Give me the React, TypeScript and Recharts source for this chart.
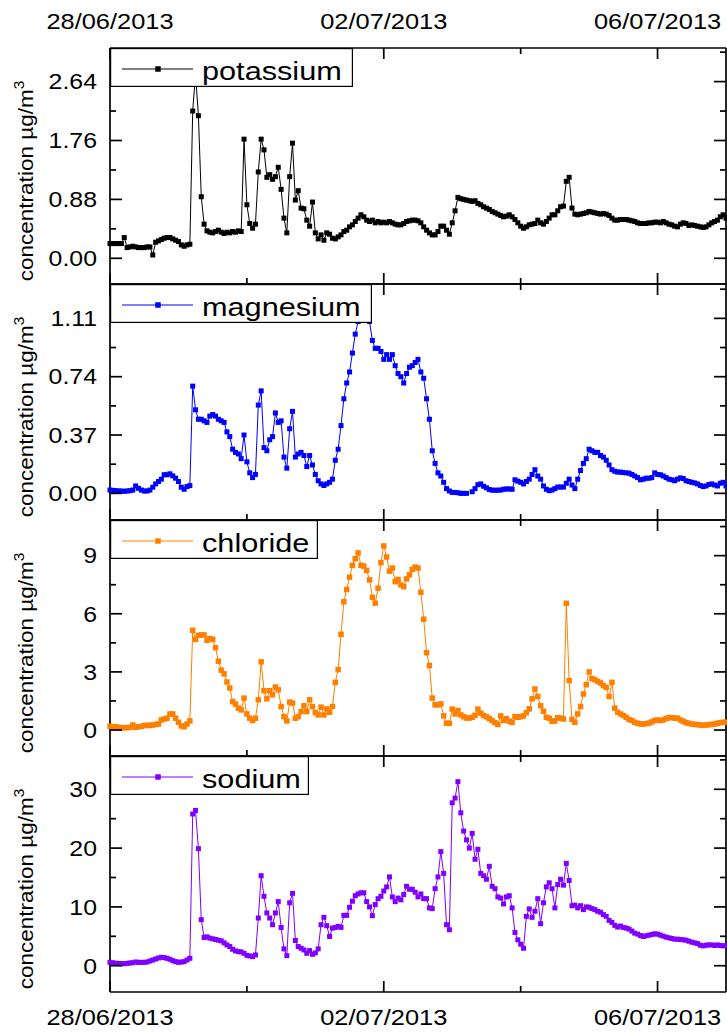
import React from 'react';
import { LineChart, Line, XAxis, YAxis, Legend } from 'recharts';

// hourly samples, hour 0 = 28/06/2013 00:00
const hours: number[] = Array.from({ length: 217 }, (_, i) => i);

const xTicks = [0, 48, 96, 144, 192];
const xTickLabels: Record<number, string> = { 0: '28/06/2013', 96: '02/07/2013', 192: '06/07/2013' };

const potassium = [
  0.22, 0.22, 0.22, 0.22, 0.22, 0.31, 0.16, 0.17, 0.18, 0.17,
  0.16, 0.16, 0.16, 0.17, 0.17, 0.05, 0.24, 0.26, 0.28, 0.30,
  0.31, 0.31, 0.29, 0.27, 0.25, 0.20, 0.18, 0.20, 0.21, 2.20,
  2.75, 2.13, 0.92, 0.51, 0.41, 0.39, 0.38, 0.40, 0.42, 0.39,
  0.37, 0.39, 0.38, 0.40, 0.39, 0.41, 0.40, 1.78, 0.80, 0.52,
  0.45, 0.51, 1.29, 1.78, 1.62, 1.21, 1.25, 1.18, 1.22, 1.36,
  1.03, 0.60, 0.38, 1.22, 1.72, 0.87, 1.01, 0.75, 0.74, 0.57,
  0.48, 0.84, 0.38, 0.29, 0.35, 0.27, 0.38, 0.36, 0.30, 0.29,
  0.32, 0.35, 0.40, 0.42, 0.47, 0.50, 0.55, 0.60, 0.65, 0.62,
  0.57, 0.55, 0.57, 0.53, 0.55, 0.53, 0.54, 0.53, 0.55, 0.53,
  0.51, 0.50, 0.50, 0.52, 0.55, 0.56, 0.57, 0.57, 0.56, 0.53,
  0.47, 0.42, 0.38, 0.35, 0.35, 0.40, 0.48, 0.48, 0.42, 0.36,
  0.53, 0.71, 0.91, 0.89, 0.88, 0.87, 0.86, 0.85, 0.86, 0.82,
  0.80, 0.77, 0.75, 0.73, 0.70, 0.68, 0.66, 0.64, 0.62, 0.63,
  0.65, 0.62, 0.58, 0.53, 0.48, 0.45, 0.47, 0.50, 0.51, 0.52,
  0.57, 0.53, 0.51, 0.55, 0.60, 0.65, 0.65, 0.71, 0.77, 0.78,
  1.15, 1.21, 0.75, 0.66, 0.65, 0.66, 0.67, 0.68, 0.70, 0.69,
  0.68, 0.67, 0.66, 0.67, 0.66, 0.64, 0.60, 0.57, 0.57, 0.58,
  0.58, 0.58, 0.57, 0.56, 0.55, 0.53, 0.52, 0.52, 0.52, 0.53,
  0.53, 0.54, 0.54, 0.53, 0.55, 0.53, 0.51, 0.50, 0.48, 0.47,
  0.51, 0.53, 0.52, 0.49, 0.50, 0.49, 0.48, 0.47, 0.46, 0.47,
  0.50, 0.53, 0.55, 0.57, 0.62, 0.65, 0.60,
];

const magnesium: (number | null)[] = [
  0.021, 0.019, 0.017, 0.015, 0.015, 0.013, 0.015, 0.017, 0.021, 0.047,
  0.032, 0.021, 0.015, 0.015, 0.021, 0.039, 0.060, 0.075, 0.090, 0.118,
  0.118, 0.124, 0.111, 0.096, 0.075, 0.039, 0.026, 0.043, 0.049, 0.68,
  0.53, 0.47, 0.47, 0.46, 0.45, 0.49, 0.50, 0.49, 0.47, 0.46,
  0.45, 0.39, 0.36, 0.28, 0.26, 0.25, 0.22, 0.37, 0.20, 0.13,
  0.10, 0.12, 0.56, 0.65, 0.29, 0.27, 0.34, 0.36, 0.51, 0.45,
  0.46, 0.23, 0.16, 0.41, 0.52, 0.23, 0.25, 0.26, 0.24, 0.17,
  0.24, 0.18, 0.12, 0.08, 0.06, 0.05, 0.06, 0.07, 0.09, 0.21,
  0.28, 0.43, 0.60, 0.70, 0.77, 0.89, 1.01, 1.09, 1.13, 1.16,
  1.12, 1.09, 0.97, 0.92, 0.92, 0.90, 0.85, 0.88, 0.85, 0.88,
  0.81, 0.76, 0.74, 0.70, 0.76, 0.80, 0.81, 0.83, 0.85, 0.77,
  0.73, 0.60, 0.47, 0.27, 0.19, 0.13, 0.11, 0.07, 0.03, 0.015,
  0.006, 0.006, 0.004, 0.0, 0.0, 0.0, null, 0.01, 0.03, 0.055,
  0.06, 0.045, 0.035, 0.025, 0.02, 0.02, 0.02, 0.021, 0.026, 0.028,
  0.028, 0.026, 0.086, 0.077, 0.07, 0.06, 0.075, 0.09, 0.12, 0.15,
  0.11, 0.09, 0.047, 0.026, 0.017, 0.021, 0.03, 0.04, 0.04, 0.04,
  0.064, 0.09, 0.053, 0.03, 0.09, 0.145, 0.19, 0.22, 0.28, 0.27,
  0.26, 0.26, 0.24, 0.23, 0.21, 0.18, 0.15, 0.14, 0.135, 0.135,
  0.132, 0.13, 0.128, 0.12, 0.11, 0.10, 0.086, 0.09, 0.096, 0.096,
  0.10, 0.13, 0.12, 0.118, 0.11, 0.10, 0.09, 0.086, 0.08, 0.09,
  0.098, 0.094, 0.08, 0.075, 0.07, 0.066, 0.06, 0.05, 0.043, 0.047,
  0.056, 0.06, 0.053, 0.047, 0.064, 0.07, 0.047,
];

const chloride = [
  0.19, 0.17, 0.17, 0.14, 0.12, 0.12, 0.12, 0.14, 0.26, 0.14,
  0.17, 0.19, 0.23, 0.24, 0.24, 0.26, 0.29, 0.31, 0.52, 0.57,
  0.61, 0.83, 0.83, 0.61, 0.40, 0.21, 0.17, 0.31, 0.47, 5.15,
  4.68, 4.89, 4.91, 4.91, 4.63, 4.72, 4.68, 4.25, 3.55, 3.09,
  2.90, 2.48, 2.17, 1.47, 1.34, 1.13, 1.04, 1.65, 0.83, 0.61,
  0.49, 0.61, 1.56, 3.52, 2.03, 1.61, 2.03, 1.82, 2.22, 2.08,
  1.21, 0.69, 0.47, 1.44, 1.39, 0.61, 0.69, 0.95, 1.25, 0.95,
  1.56, 1.21, 0.90, 0.78, 1.18, 0.78, 1.09, 0.92, 1.21, 2.46,
  3.12, 4.94, 6.62, 7.25, 7.89, 8.50, 8.84, 9.14, 8.50, 8.46,
  8.24, 7.75, 6.85, 6.55, 7.32, 8.64, 9.50, 8.93, 8.20, 8.36,
  7.66, 7.77, 7.49, 7.40, 7.80, 8.01, 8.29, 8.41, 8.36, 7.11,
  5.72, 3.99, 3.33, 1.65, 1.30, 1.30, 1.35, 0.73, 0.35, 0.35,
  1.08, 0.83, 1.01, 0.78, 0.69, 0.62, 0.62, 0.66, 0.76, 1.08,
  0.87, 0.75, 0.68, 0.59, 0.49, 0.38, 0.29, 0.73, 0.49, 0.59,
  0.45, 0.40, 0.69, 0.66, 0.69, 0.73, 0.90, 1.09, 1.61, 2.12,
  1.73, 1.25, 0.97, 0.66, 0.61, 0.45, 0.47, 0.64, 0.61, 0.57,
  6.54, 2.55, 0.55, 0.40, 0.83, 1.21, 1.86, 2.34, 3.00, 2.65,
  2.60, 2.51, 2.43, 2.29, 2.20, 1.73, 2.46, 1.13, 0.92, 0.83,
  0.75, 0.66, 0.55, 0.49, 0.40, 0.35, 0.31, 0.31, 0.33, 0.36,
  0.42, 0.49, 0.52, 0.49, 0.52, 0.59, 0.64, 0.64, 0.62, 0.61,
  0.52, 0.45, 0.38, 0.35, 0.31, 0.29, 0.28, 0.26, 0.24, 0.26,
  0.28, 0.29, 0.31, 0.35, 0.38, 0.40, 0.40,
];

const sodium = [
  0.57, 0.51, 0.40, 0.40, 0.34, 0.34, 0.40, 0.46, 0.51, 0.63,
  0.57, 0.57, 0.57, 0.63, 0.80, 0.97, 1.14, 1.31, 1.43, 1.37,
  1.26, 1.09, 0.86, 0.69, 0.57, 0.63, 0.69, 0.97, 1.26, 25.8,
  26.4, 19.9, 7.83, 4.80, 4.91, 4.69, 4.57, 4.46, 4.34, 4.23,
  3.89, 3.54, 3.26, 2.80, 2.51, 2.40, 2.34, 2.11, 1.77, 1.66,
  1.54, 1.83, 8.11, 15.3, 11.8, 8.97, 8.11, 6.97, 8.97, 10.9,
  6.51, 2.86, 1.71, 10.7, 12.3, 4.29, 3.26, 2.97, 2.69, 2.11,
  2.57, 1.94, 2.17, 2.86, 6.97, 8.23, 6.80, 4.97, 6.40, 6.51,
  6.69, 6.51, 8.57, 8.57, 9.94, 10.97, 11.9, 12.2, 12.4, 12.4,
  10.9, 10.0, 8.51, 10.4, 11.4, 11.8, 12.7, 13.4, 15.1, 11.7,
  10.9, 11.5, 11.2, 12.1, 13.5, 13.0, 13.0, 12.5, 11.7, 12.2,
  11.4, 11.4, 9.83, 9.71, 13.1, 15.1, 19.4, 15.7, 6.97, 6.11,
  27.7, 28.5, 31.3, 26.0, 22.9, 21.4, 20.0, 22.5, 18.1, 19.8,
  15.7, 15.3, 14.7, 16.9, 13.5, 13.1, 11.7, 11.5, 10.5, 11.7,
  11.9, 9.83, 5.66, 4.40, 3.66, 2.97, 8.40, 9.66, 8.23, 9.26,
  11.4, 7.14, 10.7, 13.4, 14.1, 13.1, 9.83, 13.8, 14.7, 13.7,
  17.4, 14.5, 10.2, 10.3, 9.83, 10.2, 9.54, 10.0, 9.94, 9.71,
  9.54, 9.26, 9.09, 8.69, 8.40, 7.71, 7.37, 6.86, 6.57, 6.74,
  6.51, 6.40, 6.23, 5.89, 5.54, 5.37, 5.14, 4.97, 5.09, 5.20,
  5.31, 5.43, 5.37, 5.20, 5.03, 4.86, 4.74, 4.63, 4.51, 4.51,
  4.46, 4.40, 4.34, 4.17, 4.00, 3.89, 3.77, 3.49, 3.37, 3.49,
  3.54, 3.54, 3.43, 3.54, 3.43, 3.37, 3.43,
];

const potassiumTicks = [0, 0.44, 0.88, 1.32, 1.76, 2.2, 2.64, 3.08];
const magnesiumTicks = [0, 0.185, 0.37, 0.555, 0.74, 0.925, 1.11, 1.295];
const chlorideTicks = [0, 1.5, 3, 4.5, 6, 7.5, 9, 10.5];
const sodiumTicks = [0, 5, 10, 15, 20, 25, 30, 35];

const rows = hours.map((t, i) => ({
  t,
  potassium: potassium[i],
  magnesium: magnesium[i],
  chloride: chloride[i],
  sodium: sodium[i],
}));

const FONT = "'Liberation Sans', Arial, Helvetica, sans-serif";
const AXIS_W = 1.7;
const PANEL_TOPS = [48, 284, 520, 756];
const PANEL_H = 236;

type PanelCfg = {
  key: string;
  color: string;
  domain: [number, number];
  ticks: number[];
  decimals: number;
  legendWidth: number;
  marker: number;
};

const panels: PanelCfg[] = [
  { key: 'potassium', color: '#000000', domain: [-0.384, 3.142], ticks: potassiumTicks, decimals: 2, legendWidth: 243, marker: 5 },
  { key: 'magnesium', color: '#0000ff', domain: [-0.169, 1.328], ticks: magnesiumTicks, decimals: 2, legendWidth: 262, marker: 5 },
  { key: 'chloride', color: '#ff8000', domain: [-1.34, 10.84], ticks: chlorideTicks, decimals: 0, legendWidth: 208, marker: 5.5 },
  { key: 'sodium', color: '#8000ff', domain: [-4.47, 35.66], ticks: sodiumTicks, decimals: 0, legendWidth: 199, marker: 5 },
];

function makeXTick(side: 'top' | 'bottom', showLabel: boolean) {
  return (props: any) => {
    const { x, y, payload } = props;
    const v = payload.value as number;
    const major = v % 96 === 0;
    const len = major ? 11 : 6;
    const y2 = side === 'bottom' ? y - len : y + len;
    const label = xTickLabels[v];
    return (
      <g>
        <line x1={x} x2={x} y1={y} y2={y2} stroke="#000" strokeWidth={AXIS_W} />
        {showLabel && label ? (
          <text
            transform={`translate(${x}, ${side === 'bottom' ? y + 33 : y - 19}) scale(1.13,1)`}
            textAnchor="middle"
            fontSize={22.5}
            fontFamily={FONT}
            fill="#000"
          >
            {label}
          </text>
        ) : null}
      </g>
    );
  };
}

function makeYTick(side: 'left' | 'right', decimals: number) {
  return (props: any) => {
    const { x, y, payload, index } = props;
    const major = index % 2 === 0;
    const len = major ? 12 : 6;
    const x2 = side === 'left' ? x + len : x - len;
    return (
      <g>
        <line x1={x} x2={x2} y1={y} y2={y} stroke="#000" strokeWidth={AXIS_W} />
        {side === 'left' && major ? (
          <text
            transform={`translate(${x - 13}, ${y + 7.8}) scale(1.13,1)`}
            textAnchor="end"
            fontSize={22}
            fontFamily={FONT}
            fill="#000"
          >
            {(payload.value as number).toFixed(decimals)}
          </text>
        ) : null}
      </g>
    );
  };
}

function makeTitle(cy: number) {
  return () => (
    <text
      transform={`translate(33, ${cy}) rotate(-90) scale(1.1,1)`}
      textAnchor="middle"
      fontSize={20.5}
      fontFamily={FONT}
      fill="#000"
    >
      concentration µg/m<tspan dy={-9} fontSize={14}>3</tspan>
    </text>
  );
}

function makeLegend(p: PanelCfg) {
  return (props: any) => {
    const item = props && props.payload && props.payload[0];
    const color = (item && item.color) || p.color;
    const name = (item && item.value) || p.key;
    const s = 5.5;
    return (
      <svg width={p.legendWidth} height={39} style={{ display: 'block' }}>
        <rect x={0.6} y={0.6} width={p.legendWidth - 1.2} height={37.8} fill="#fff" stroke="#000" strokeWidth={1.2} />
        <line x1={12} x2={83} y1={21} y2={21} stroke={color} strokeWidth={1} />
        <rect x={48 - s / 2} y={21 - s / 2} width={s} height={s} fill={color} />
        <text transform="translate(92, 32) scale(1.18,1)" fontSize={26} fontFamily={FONT} fill="#000">
          {name}
        </text>
      </svg>
    );
  };
}

function makeDot(color: string, s: number) {
  return (props: any) => {
    const { cx, cy, index } = props;
    if (cx == null || cy == null || Number.isNaN(cx) || Number.isNaN(cy)) return <g key={`d${index}`} />;
    return <rect key={`d${index}`} x={cx - s / 2} y={cy - s / 2} width={s} height={s} fill={color} stroke="none" />;
  };
}

function Panel({ p, k }: { p: PanelCfg; k: number }) {
  const padTop = k === 0 ? 48 : 4;
  const padBottom = k === 3 ? 44 : 4;
  const h = PANEL_H + padTop + padBottom;
  const top = PANEL_TOPS[k] - padTop;
  const axisLine = { stroke: '#000', strokeWidth: AXIS_W };
  return (
    <div style={{ position: 'absolute', left: 0, top, width: 727, height: h }}>
      <LineChart width={727} height={h} data={rows} margin={{ top: padTop - 1, right: 0, bottom: padBottom - 1, left: 0 }}>
        <XAxis
          xAxisId="b"
          dataKey="t"
          type="number"
          domain={[0, 216]}
          ticks={xTicks}
          interval={0}
          orientation="bottom"
          height={1}
          tickSize={0}
          tickMargin={0}
          axisLine={axisLine}
          tickLine={false}
          tick={makeXTick('bottom', k === 3)}
        />
        <XAxis
          xAxisId="t"
          dataKey="t"
          type="number"
          domain={[0, 216]}
          ticks={xTicks}
          interval={0}
          orientation="top"
          height={1}
          tickSize={0}
          tickMargin={0}
          axisLine={axisLine}
          tickLine={false}
          allowDataOverflow
          tick={makeXTick('top', k === 0)}
        />
        <YAxis
          yAxisId="l"
          type="number"
          domain={p.domain}
          ticks={p.ticks}
          interval={0}
          width={110}
          tickSize={0}
          tickMargin={0}
          axisLine={axisLine}
          tickLine={false}
          tick={makeYTick('left', p.decimals)}
          label={makeTitle(padTop + PANEL_H / 2 + 15)}
        />
        <YAxis
          yAxisId="r"
          orientation="right"
          type="number"
          domain={p.domain}
          ticks={p.ticks}
          interval={0}
          width={1}
          tickSize={0}
          tickMargin={0}
          axisLine={axisLine}
          tickLine={false}
          allowDataOverflow
          tick={makeYTick('right', p.decimals)}
        />
        <Legend
          layout="vertical"
          align="center"
          verticalAlign="middle"
          wrapperStyle={{ left: 110, top: padTop, width: 'auto', height: 'auto' }}
          content={makeLegend(p)}
        />
        <Line
          xAxisId="b"
          yAxisId="l"
          type="linear"
          dataKey={p.key}
          name={p.key}
          stroke={p.color}
          strokeWidth={1}
          dot={makeDot(p.color, p.marker)}
          activeDot={false}
          connectNulls={false}
          isAnimationActive={false}
        />
      </LineChart>
    </div>
  );
}

export default function App() {
  return (
    <div style={{ position: 'absolute', left: 0, top: 0, width: 727, height: 1035, background: '#fff', overflow: 'hidden' }}>
      {panels.map((p, k) => (
        <Panel key={p.key} p={p} k={k} />
      ))}
    </div>
  );
}
